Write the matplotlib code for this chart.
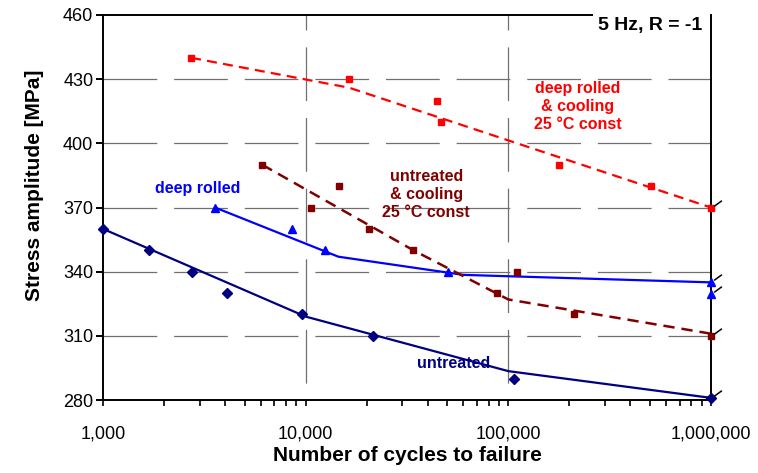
import matplotlib
matplotlib.use("Agg")
import matplotlib.pyplot as plt
from matplotlib.ticker import FuncFormatter, LogLocator, NullFormatter

plt.rcParams['font.family'] = ['Liberation Sans', 'DejaVu Sans']

# untreated (navy diamonds)
untreated_n = [1000, 1690, 2750, 4070, 9600, 21400, 107000, 1e6]
untreated_s = [360, 350, 340, 330, 320, 310, 290, 281]
untreated_fit_n = [1000, 10000, 100000, 1e6]
untreated_fit_s = [360, 319, 293.5, 281]

# deep rolled (blue triangles)
rolled_n = [3570, 8550, 12400, 50600, 1e6, 1e6]
rolled_s = [370, 360, 350, 340, 335, 329.5]
rolled_fit_n = [3570, 14500, 60000, 1e6]
rolled_fit_s = [370, 347, 338.5, 335]

# untreated & cooling (dark red squares)
cool_n = [6100, 10600, 14600, 20500, 34000, 88000, 110000, 212000, 1e6]
cool_s = [390, 370, 380, 360, 350, 330, 340, 320, 310]
cool_fit_n = [6100, 34000, 100000, 1e6]
cool_fit_s = [390, 350, 327, 311]

# deep rolled & cooling (red squares)
rolled_cool_n = [2720, 16400, 44500, 46300, 177000, 506000, 1e6]
rolled_cool_s = [440, 430, 420, 410, 390, 380, 370]
rolled_cool_fit_n = [2720, 16400, 1e6]
rolled_cool_fit_s = [440, 426, 370]

# run-outs at 1e6 cycles
runout_s = [370, 335, 329.5, 310, 281]

fig = plt.figure(figsize=(7.58, 4.73), dpi=100)
ax = fig.add_axes([0.1359, 0.1543, 0.8021, 0.814])

ax.set_xscale('log')
ax.set_xlim(1000, 1e6)
ax.set_ylim(280, 460)

# grid
for yv in [310, 340, 370, 400, 430]:
    ax.axhline(yv, color='#707070', lw=0.9, ls=(0, (43, 13.5)), zorder=1)
for xv in [1e4, 1e5]:
    ax.axvline(xv, color='#707070', lw=0.9, ls=(43, (43, 13.5)), zorder=1)

ax.plot(untreated_fit_n, untreated_fit_s, color='#000080', lw=1.6, zorder=3)
ax.plot(untreated_n, untreated_s, ls='none', marker='D', ms=5.5, color='#000080',
        zorder=4, clip_on=False)

ax.plot(rolled_fit_n, rolled_fit_s, color='#0000FF', lw=1.6, zorder=3)
ax.plot(rolled_n, rolled_s, ls='none', marker='^', ms=6, color='#0000FF',
        zorder=4, clip_on=False)

ax.plot(cool_fit_n, cool_fit_s, color='#800000', lw=1.8, dashes=(4.5, 2.8), zorder=3)
ax.plot(cool_n, cool_s, ls='none', marker='s', ms=5, color='#800000',
        zorder=4, clip_on=False)

ax.plot(rolled_cool_fit_n, rolled_cool_fit_s, color='#FF0000', lw=1.6, dashes=(4.5, 2.8), zorder=3)
ax.plot(rolled_cool_n, rolled_cool_s, ls='none', marker='s', ms=5, color='#FF0000',
        zorder=4, clip_on=False)

# run-out arrows
ax.plot([1e6] * len(runout_s), runout_s, ls='none', marker=[(0.25, 0.2), (1, 0.75)],
        ms=15, mec='black', mew=1.1, zorder=5, clip_on=False)

# labels
ax.text(2940, 378.7, 'deep rolled', color='#0000FF', fontsize=11.5, fontweight='bold',
        ha='center', va='center')
ax.text(39300, 375.9, 'untreated\n& cooling\n25 °C const', color='#800000', fontsize=11.5,
        fontweight='bold', ha='center', va='center', linespacing=1.25)
ax.text(220000, 417, 'deep rolled\n& cooling\n25 °C const', color='#FF0000', fontsize=11.5,
        fontweight='bold', ha='center', va='center', linespacing=1.25)
ax.text(54000, 296.9, 'untreated', color='#000080', fontsize=11.5, fontweight='bold',
        ha='center', va='center')
ax.text(0.985, 0.995, '5 Hz, R = -1', transform=ax.transAxes, fontsize=14, fontweight='bold',
        ha='right', va='top', zorder=6)

for side in ['left', 'bottom', 'right', 'top']:
    ax.spines[side].set_linewidth(1.4)
    ax.spines[side].set_color('black')
# top frame stops where the condition box starts
ax.spines['top'].set_bounds(1000, 2.6e5)

ax.set_yticks([280, 310, 340, 370, 400, 430, 460])
ax.xaxis.set_major_locator(LogLocator(base=10, numticks=10))
ax.xaxis.set_minor_locator(LogLocator(base=10, subs=range(2, 10), numticks=20))
ax.xaxis.set_major_formatter(FuncFormatter(lambda v, p: f'{int(round(v)):,}'))
ax.xaxis.set_minor_formatter(NullFormatter())
ax.tick_params(axis='x', which='both', direction='out', length=4, width=1.2, pad=14, labelsize=13)
ax.tick_params(axis='y', direction='out', length=5, width=1.4, pad=2, labelsize=13)

ax.set_xlabel('Number of cycles to failure', fontsize=15, fontweight='bold', labelpad=3)
ax.set_ylabel('Stress amplitude [MPa]', fontsize=15, fontweight='bold')
ax.yaxis.set_label_coords(-0.097, 0.558)

fig.savefig('out.png', dpi=100)
